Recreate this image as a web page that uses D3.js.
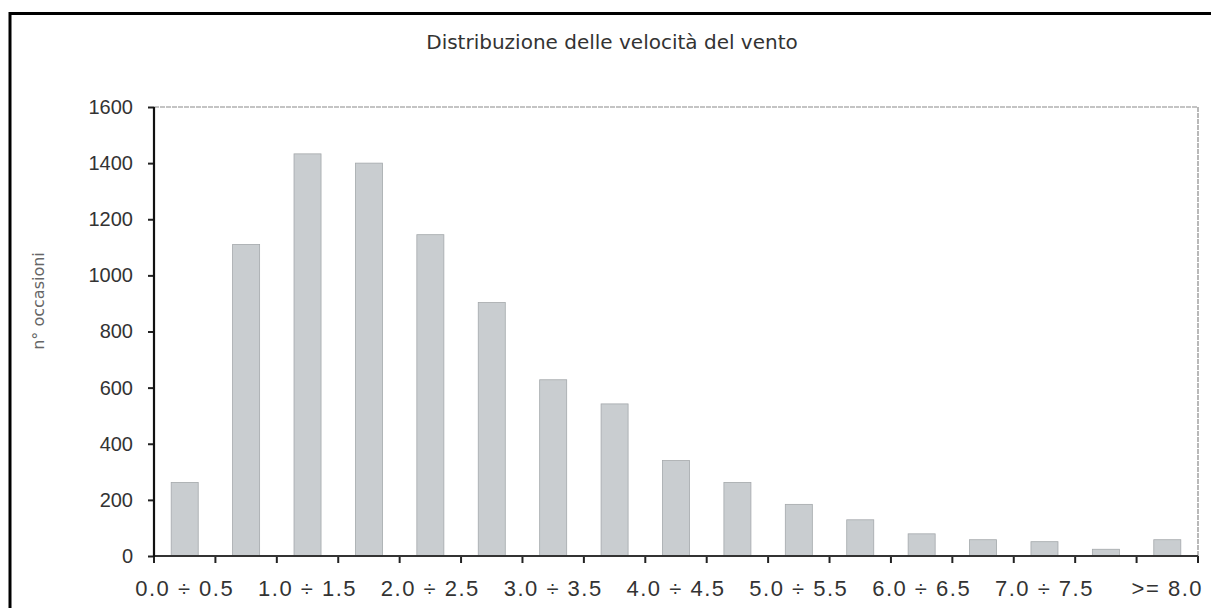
<!DOCTYPE html>
<html>
<head>
<meta charset="utf-8">
<script src="https://cdnjs.cloudflare.com/ajax/libs/d3/7.8.5/d3.min.js"></script>
<style>
    body { margin: 0; background: #fff; }
    svg { display: block; font-family: "DejaVu Sans", Verdana, sans-serif; }
    .tick text { fill: #333; }
</style>
</head>
<body>
<svg width="1211" height="608"></svg>
<script>
const width = 1211;
const height = 608;

// wind speed classes (m/s)
const classes = [
    "0.0 ÷ 0.5", "0.5 ÷ 1.0", "1.0 ÷ 1.5", "1.5 ÷ 2.0", "2.0 ÷ 2.5",
    "2.5 ÷ 3.0", "3.0 ÷ 3.5", "3.5 ÷ 4.0", "4.0 ÷ 4.5", "4.5 ÷ 5.0",
    "5.0 ÷ 5.5", "5.5 ÷ 6.0", "6.0 ÷ 6.5", "6.5 ÷ 7.0", "7.0 ÷ 7.5",
    "7.5 ÷ 8.0", ">= 8.0"
];

// number of occurrences per class
const occasions = [262, 1110, 1433, 1400, 1145, 903, 628, 542, 340, 262, 184, 129, 79, 58, 51, 24, 58];

const yTicks = [0, 200, 400, 600, 800, 1000, 1200, 1400, 1600];

const margin = { top: 107, right: 13, bottom: 52, left: 154 };

const svg = d3.select("svg");

// outer frame (left and top edges)
svg.append("path")
    .attr("d", `M10,${height} V13.5 H${width}`)
    .attr("fill", "none")
    .attr("stroke", "#000")
    .attr("stroke-width", 3);

// x scale
const xScale = d3.scaleBand()
    .domain(classes)
    .range([margin.left, width - margin.right])
    .paddingInner(0.56)
    .paddingOuter(0.28);

// y scale
const yScale = d3.scaleLinear()
    .domain([0, 1600])
    .range([height - margin.bottom, margin.top]);

const x0 = margin.left;
const x1 = width - margin.right;
const yBottom = yScale(0);
const yTop = yScale(1600);

// plot area top and right border
svg.append("path")
    .attr("d", `M${x0},${yTop} H${x1} V${yBottom}`)
    .attr("fill", "none")
    .attr("stroke", "#8a8a8a")
    .attr("stroke-width", 1.2)
    .attr("stroke-dasharray", "5,1");

// bars
svg.append("g")
    .selectAll("rect")
    .data(occasions)
    .join("rect")
    .attr("x", (d, i) => xScale(classes[i]))
    .attr("y", d => yScale(d))
    .attr("width", xScale.bandwidth())
    .attr("height", d => yScale(0) - yScale(d))
    .attr("fill", "#c9cdd0")
    .attr("stroke", "#a4a8ab")
    .attr("stroke-width", 0.8);

// y axis
const yAxis = d3.axisLeft(yScale)
    .tickValues(yTicks)
    .tickSize(6)
    .tickPadding(15)
    .tickFormat(d3.format("d"));

const gy = svg.append("g")
    .attr("transform", `translate(${x0},0)`)
    .call(yAxis);

gy.select(".domain").remove();
gy.selectAll(".tick line").attr("stroke", "#222").attr("stroke-width", 2);
gy.selectAll(".tick text").style("font-size", "20px");

// x axis labels, every second class
const xAxis = d3.axisBottom(xScale)
    .tickValues(classes.filter((d, i) => i % 2 === 0))
    .tickSize(0)
    .tickPadding(24);

const gx = svg.append("g")
    .attr("transform", `translate(0,${yBottom})`)
    .call(xAxis);

gx.select(".domain").remove();
gx.selectAll(".tick text")
    .style("font-size", "22px")
    .style("letter-spacing", "1.5px");

// x tick marks on class boundaries
const bounds = d3.range(classes.length + 1).map(k => x0 + k * xScale.step());

svg.append("g")
    .selectAll("line")
    .data(bounds)
    .join("line")
    .attr("x1", d => d)
    .attr("x2", d => d)
    .attr("y1", yBottom)
    .attr("y2", yBottom + 7)
    .attr("stroke", "#222")
    .attr("stroke-width", 2);

// axis lines
svg.append("line")
    .attr("x1", x0).attr("x2", x1)
    .attr("y1", yBottom).attr("y2", yBottom)
    .attr("stroke", "#333")
    .attr("stroke-width", 2.2);

svg.append("line")
    .attr("x1", x0).attr("x2", x0)
    .attr("y1", yTop).attr("y2", yBottom + 1)
    .attr("stroke", "#111")
    .attr("stroke-width", 2.2);

// title
svg.append("text")
    .attr("x", 612)
    .attr("y", 49)
    .attr("text-anchor", "middle")
    .style("font-size", "20px")
    .style("fill", "#333")
    .text("Distribuzione delle velocità del vento");

// y axis label
svg.append("text")
    .attr("transform", "rotate(-90)")
    .attr("x", -301)
    .attr("y", 44)
    .attr("text-anchor", "middle")
    .style("font-size", "16px")
    .style("fill", "#666")
    .text("n° occasioni");
</script>
</body>
</html>
